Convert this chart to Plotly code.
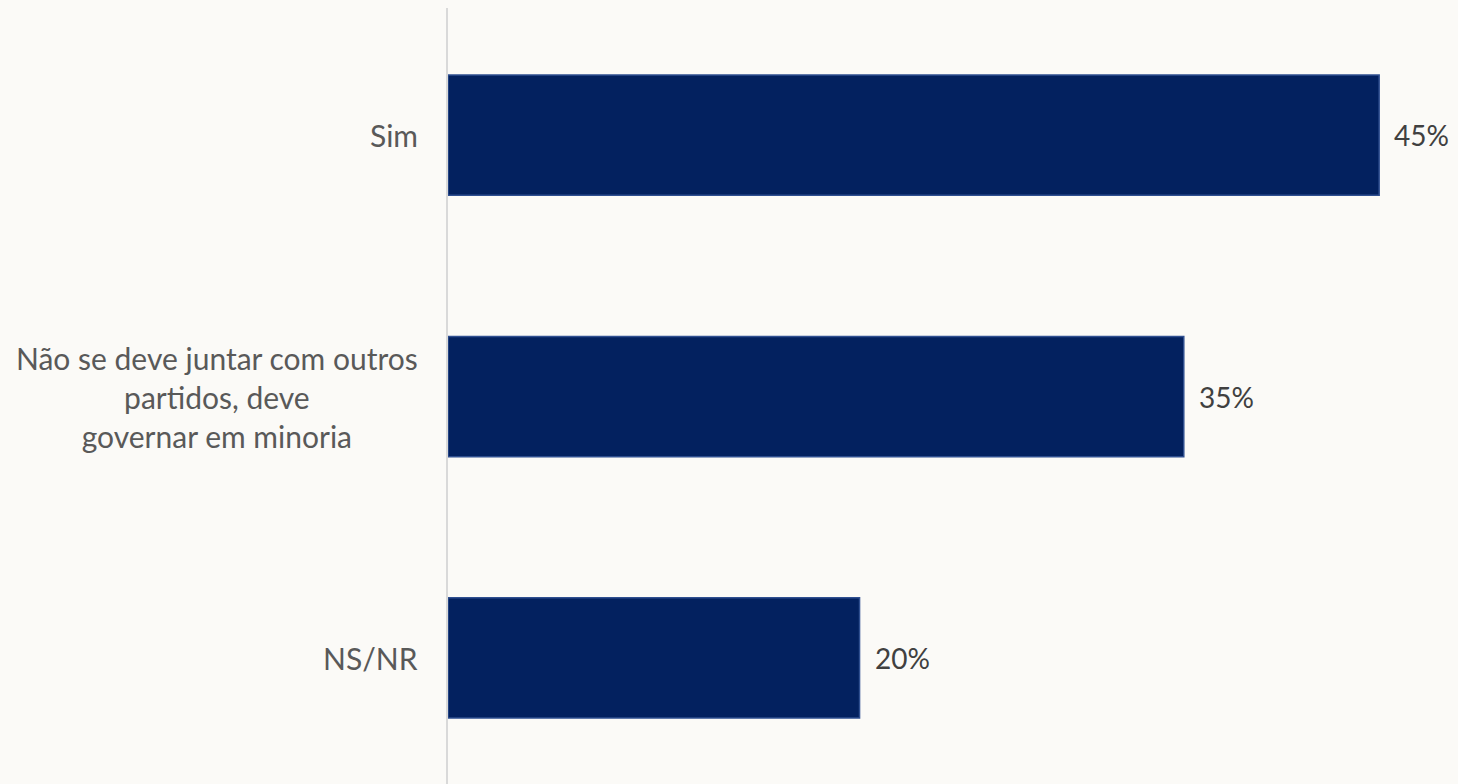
import plotly.graph_objects as go

categories = ["Sim", "Não se deve juntar com outros<br>partidos, deve<br>governar em minoria", "NS/NR"]
values = [44.8, 35.4, 19.8]
labels = ["45%", "35%", "20%"]

FONT = "Lato, Open Sans, sans-serif"
BG = "#fbfaf7"

fig = go.Figure()
fig.add_trace(go.Bar(
    y=categories, x=values, orientation="h", width=0.46,
    marker=dict(color="#03215f", line=dict(color="#2f4f90", width=1.5)),
    hoverinfo="skip",
))

for c, v, t in zip(categories, values, labels):
    fig.add_annotation(x=v, y=c, xref="x", yref="y", text=t, showarrow=False,
                       xanchor="left", xshift=13,
                       font=dict(family=FONT, size=28, color="#404040"))
    fig.add_annotation(x=0, y=c, xref="paper", yref="y", text=c, showarrow=False,
                       xanchor="right", xshift=-28, align="center",
                       font=dict(family=FONT, size=30, color="#595959"))

fig.update_layout(
    width=1450, height=776,
    margin=dict(l=440, r=4, t=0, b=0),
    paper_bgcolor=BG, plot_bgcolor=BG,
    showlegend=False,
    xaxis=dict(range=[0, 48.4], showgrid=False, zeroline=False, showticklabels=False, showline=False),
    yaxis=dict(type="category", range=[2.482, -0.486], showgrid=False, zeroline=False,
               showticklabels=False, showline=True, linecolor="#d9d9d9", linewidth=2, ticks=""),
)

fig.write_html(
    "out.html",
    post_script="document.body.style.background='%s';document.documentElement.style.background='%s';" % (BG, BG),
)
